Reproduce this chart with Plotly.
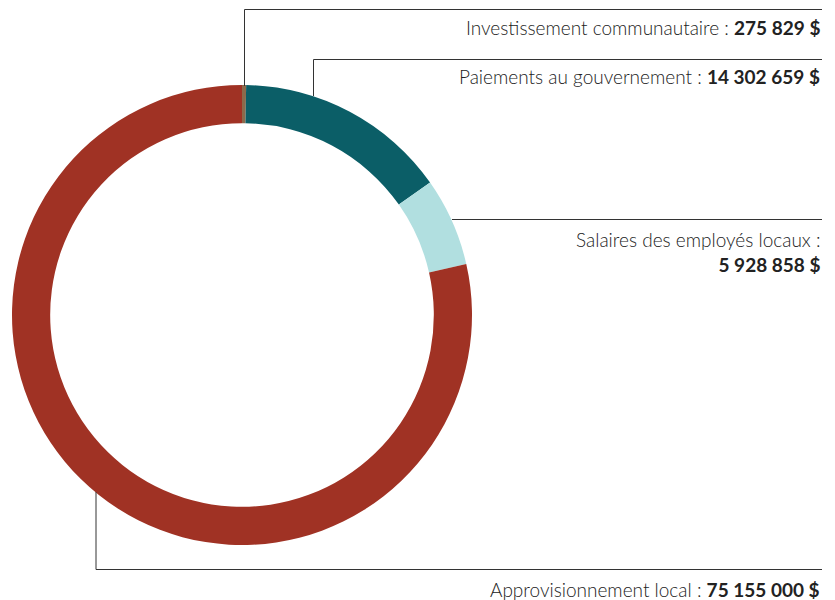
import plotly.graph_objects as go

# Distribution of economic benefits (CAD)
categories = [
    "Investissement communautaire",
    "Paiements au gouvernement",
    "Salaires des employés locaux",
    "Approvisionnement local",
]
values = [275829, 14302659, 5928858, 75155000]
value_labels = ["275 829 $", "14 302 659 $", "5 928 858 $", "75 155 000 $"]
colors = ["#8C6A4B", "#0B5E67", "#B1DFE0", "#A03224"]

W, H = 835, 600
FONT = "Lato"
TEXT_COLOR = "#222222"
LINE_COLOR = "#333333"


def px(x):
    return x / W


def py(y):
    return 1 - y / H


fig = go.Figure(
    go.Pie(
        labels=categories,
        values=values,
        hole=0.834,
        sort=False,
        direction="clockwise",
        rotation=0,
        marker=dict(colors=colors, line=dict(width=0)),
        textinfo="none",
        hoverinfo="label+value",
        showlegend=False,
        domain=dict(x=[px(12), px(472)], y=[py(545), py(85)]),
    )
)

# Leader lines (pixel path -> paper coordinates)
leaders = [
    [(244.5, 86), (244.5, 9.5), (822, 9.5)],
    [(313.5, 96), (313.5, 59.5), (822, 59.5)],
    [(452, 219.5), (822, 219.5)],
    [(96, 492), (96, 569.5), (822, 569.5)],
]
shapes = []
for pts in leaders:
    path = "M " + " L ".join(f"{px(x)},{py(y)}" for x, y in pts)
    shapes.append(
        dict(type="path", xref="paper", yref="paper", path=path,
             line=dict(color=LINE_COLOR, width=1), layer="above")
    )

label_texts = [
    f"{categories[0]} : <b>{value_labels[0]}</b>",
    f"{categories[1]} : <b>{value_labels[1]}</b>",
    f"{categories[2]} :<br><b>{value_labels[2]}</b>",
    f"{categories[3]} : <b>{value_labels[3]}</b>",
]
label_y = [28, 77, 251.5, 589]
annotations = [
    dict(
        x=px(822), y=py(yc), xref="paper", yref="paper",
        xanchor="right", yanchor="middle", align="right",
        text=t, showarrow=False,
        font=dict(family=FONT, size=19, color=TEXT_COLOR, weight=300),
    )
    for t, yc in zip(label_texts, label_y)
]

fig.update_layout(
    width=W, height=H,
    margin=dict(l=0, r=0, t=0, b=0),
    paper_bgcolor="white",
    plot_bgcolor="white",
    shapes=shapes,
    annotations=annotations,
)

fig.write_html("out.html")
